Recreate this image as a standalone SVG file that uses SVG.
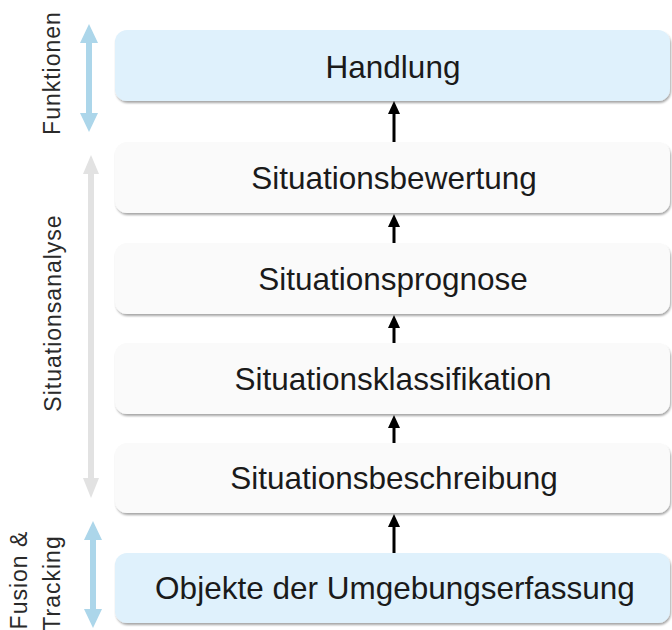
<svg xmlns="http://www.w3.org/2000/svg" width="672" height="630" viewBox="0 0 672 630">
  <defs>
    <filter id="shadow" x="-5%" y="-20%" width="110%" height="150%">
      <feDropShadow dx="1" dy="2" stdDeviation="1.3" flood-color="#000" flood-opacity="0.35"/>
    </filter>
    <!-- arrowhead drawn along +x; its base sits on the line end -->
    <marker id="head" viewBox="0 0 13 12" refX="0" refY="6" markerWidth="13" markerHeight="12" markerUnits="userSpaceOnUse" orient="auto">
      <path d="M0,0 L13,6 L0,12 Z" fill="#000"/>
    </marker>
  </defs>
  <style>
    .box { stroke: none; filter: url(#shadow); }
    .blue { fill: #dff1fc; }
    .grey { fill: #fafafa; }
    .label { font-family: "Liberation Sans", Arial, sans-serif; font-size: 31.5px; fill: #1a1a1a; text-anchor: middle; }
    .side { font-family: "Liberation Sans", Arial, sans-serif; font-size: 23px; fill: #2a2a2a; text-anchor: middle; letter-spacing: 1px; }
    .link { stroke: #000; stroke-width: 3; fill: none; marker-end: url(#head); }
  </style>
  <rect width="672" height="630" fill="#fff"/>

  <!-- side brackets -->
  <g id="bracket-funktionen">
    <path d="M89,24 L98,43 L92,43 L92,113 L98,113 L89,132 L80,113 L86,113 L86,43 L80,43 Z" fill="#acd6ea"/>
    <text class="side" transform="translate(60,73) rotate(-90)">Funktionen</text>
  </g>
  <g id="bracket-situationsanalyse">
    <path d="M91,155 L99,174 L94,174 L94,478 L99,478 L91,498 L83,478 L88,478 L88,174 L83,174 Z" fill="#e2e2e2"/>
    <text class="side" transform="translate(61,313) rotate(-90)">Situationsanalyse</text>
  </g>
  <g id="bracket-fusion">
    <path d="M93,521 L102,540 L96,540 L96,609 L102,609 L93,628 L84,609 L90,609 L90,540 L84,540 Z" fill="#acd6ea"/>
    <text class="side" transform="translate(27,580) rotate(-90)">Fusion &amp;</text>
    <text class="side" transform="translate(60,583) rotate(-90)">Tracking</text>
  </g>

  <!-- processing stages -->
  <g id="handlung">
    <rect class="box blue" x="115" y="30" width="555" height="71" rx="12"/>
    <text class="label" x="393" y="78">Handlung</text>
  </g>
  <g id="bewertung">
    <rect class="box grey" x="115" y="142" width="555" height="71" rx="12"/>
    <text class="label" x="394" y="189">Situationsbewertung</text>
  </g>
  <g id="prognose">
    <rect class="box grey" x="115" y="243" width="555" height="71" rx="12"/>
    <text class="label" x="393" y="290">Situationsprognose</text>
  </g>
  <g id="klassifikation">
    <rect class="box grey" x="115" y="343" width="555" height="71" rx="12"/>
    <text class="label" x="393" y="390">Situationsklassifikation</text>
  </g>
  <g id="beschreibung">
    <rect class="box grey" x="115" y="443" width="555" height="70" rx="12"/>
    <text class="label" x="394" y="489">Situationsbeschreibung</text>
  </g>
  <g id="objekte">
    <rect class="box blue" x="115" y="553" width="555" height="70" rx="12"/>
    <text class="label" x="395" y="599">Objekte der Umgebungserfassung</text>
  </g>

  <!-- upward flow between stages -->
  <g id="connectors">
    <line class="link" x1="394" y1="142" x2="394" y2="114"/>
    <line class="link" x1="394" y1="243" x2="394" y2="227"/>
    <line class="link" x1="394" y1="343" x2="394" y2="328"/>
    <line class="link" x1="394" y1="443" x2="394" y2="428"/>
    <line class="link" x1="394" y1="553" x2="394" y2="527"/>
  </g>
</svg>
